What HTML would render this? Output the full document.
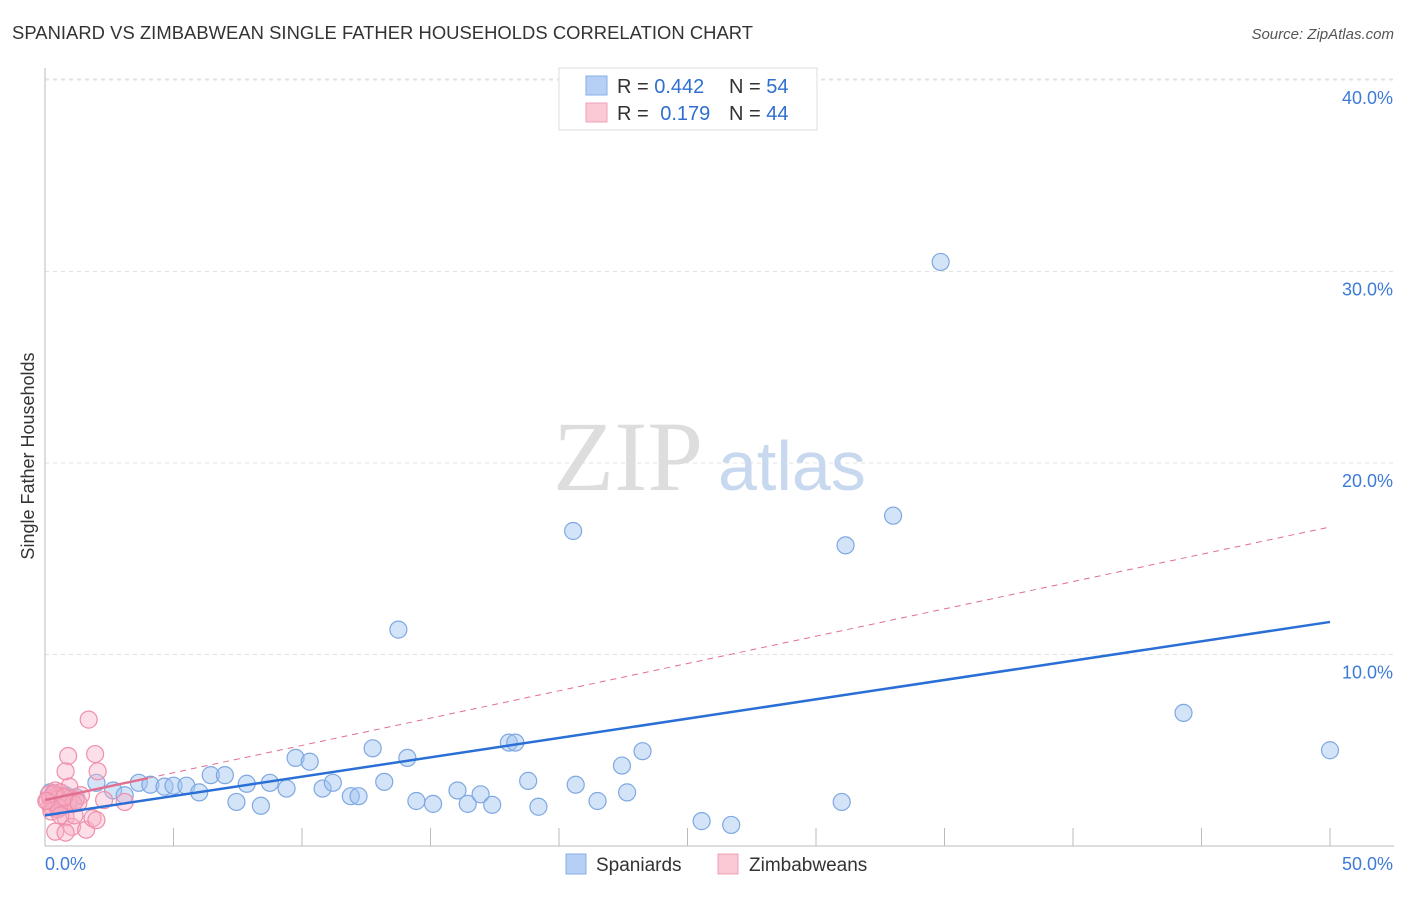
<!DOCTYPE html>
<html><head><meta charset="utf-8">
<style>
body{margin:0;background:#fff;font-family:"Liberation Sans",sans-serif;}
svg text{font-family:"Liberation Sans",sans-serif;}
</style></head>
<body>
<svg id="chart" width="1406" height="892">
<text x="12" y="39" font-size="18.4" fill="#333" textLength="741">SPANIARD VS ZIMBABWEAN SINGLE FATHER HOUSEHOLDS CORRELATION CHART</text>
<text x="1394" y="39" font-size="15" fill="#555" font-style="italic" text-anchor="end">Source: ZipAtlas.com</text>
<g id="grid"></g>
<text x="553" y="490" font-size="100" fill="#ddd" style="font-family:'Liberation Serif',serif">ZIP</text>
<text x="718" y="490" font-size="70" fill="#c8d8ef">atlas</text>
<g id="axes"></g>
<g id="pts"></g>
<g id="lines"></g>
<text transform="translate(34,456) rotate(-90)" font-size="18" fill="#333" text-anchor="middle">Single Father Households</text>
<g>
<rect x="559" y="68" width="258" height="62" fill="#fff" stroke="#ddd"/>
<rect x="586" y="76" width="21" height="19" fill="#b6d0f5" stroke="#88aee6"/>
<rect x="586" y="103" width="21" height="19" fill="#fbc8d6" stroke="#f0a0b8"/>
<text x="617" y="93" font-size="20" fill="#333">R = <tspan fill="#2f6fd0">0.442</tspan></text>
<text x="729" y="93" font-size="20" fill="#333">N = <tspan fill="#2f6fd0">54</tspan></text>
<text x="617" y="120" font-size="20" fill="#333">R = <tspan fill="#2f6fd0" dx="6">0.179</tspan></text>
<text x="729" y="120" font-size="20" fill="#333">N = <tspan fill="#2f6fd0">44</tspan></text>
</g>
<g>
<rect x="566" y="854" width="20" height="20" fill="#b6d0f5" stroke="#88aee6"/>
<text x="596" y="871" font-size="19" fill="#333">Spaniards</text>
<rect x="718" y="854" width="20" height="20" fill="#fbc8d6" stroke="#f0a0b8"/>
<text x="749" y="871" font-size="19" fill="#333">Zimbabweans</text>
</g>
</svg>
<script>
const NS="http://www.w3.org/2000/svg";
const xTicks=[0,5,10,15,20,25,30,35,40,45,50];
const yTicks=[10,20,30,40];
const yTickLabels=["10.0%","20.0%","30.0%","40.0%"];
const xTickLabels=["0.0%","50.0%"];
const blueX=[2.0,2.65,3.1,3.65,4.1,4.65,5.0,5.5,6.0,6.45,7.0,7.45,7.85,8.4,8.75,9.4,9.75,10.3,10.8,11.2,11.9,12.2,12.75,13.2,13.75,14.1,14.45,15.1,16.05,16.45,16.95,17.4,18.05,18.3,18.8,19.2,20.55,20.65,21.5,22.45,22.65,23.25,25.55,26.7,31.0,31.15,33.0,34.85,44.3,50.0,0.2,0.4,0.8,1.2];
const blueY=[3.3,2.9,2.65,3.3,3.2,3.1,3.15,3.15,2.8,3.7,3.7,2.3,3.25,2.1,3.3,3.0,4.6,4.4,3.0,3.3,2.6,2.6,5.1,3.35,11.3,4.6,2.35,2.2,2.9,2.2,2.7,2.15,5.4,5.4,3.4,2.05,16.45,3.2,2.35,4.2,2.8,4.95,1.3,1.1,2.3,15.7,17.25,30.5,6.95,5.0,2.8,2.4,2.65,2.55];
const pinkX=[1.7,0.9,1.95,0.8,2.05,0.95,3.1,0.6,0.4,0.3,0.2,0.5,0.8,1.05,0.4,0.8,1.6,1.85,2.0,1.15,2.3,0.65,0.1,0.3,0.45,0.6,1.0,1.2,1.4,0.2,0.3,0.45,0.15,0.5,0.7,0.9,1.1,0.25,0.55,0.35,0.75,1.3,0.05,0.6];
const pinkY=[6.6,4.7,4.8,3.9,3.9,3.1,2.3,2.4,2.9,2.65,2.1,1.9,1.5,1.0,0.75,0.7,0.85,1.45,1.35,1.6,2.4,2.6,2.4,2.0,2.15,2.8,2.5,2.4,2.65,2.5,2.3,2.6,2.7,2.45,2.2,2.3,2.2,1.8,2.0,2.75,2.55,2.25,2.35,1.6];
const blueTrend=[1.6,11.7];
const pinkTrend=[2.4,16.66];
const X=v=>45+v*25.7, Y=v=>846-v*19.15;
function mk(tag,attrs,parent){const e=document.createElementNS(NS,tag);for(const k in attrs)e.setAttribute(k,attrs[k]);parent.appendChild(e);return e;}
const grid=document.getElementById('grid'),axes=document.getElementById('axes'),pts=document.getElementById('pts'),lines=document.getElementById('lines');
yTicks.forEach((t,i)=>{
 const l=mk('line',{x1:45,x2:1394,y1:Y(t),y2:Y(t),stroke:'#e3e3e3','stroke-dasharray':'4,4'},grid);
 
 
 const tx=mk('text',{x:1393,y:Y(t)+24,'font-size':18,fill:'#3d7bd8','text-anchor':'end'},axes);tx.textContent=yTickLabels[i];
 
 
});
mk('line',{x1:45,x2:45,y1:68,y2:846,stroke:'#bbb'},axes);
mk('line',{x1:45,x2:1394,y1:846,y2:846,stroke:'#bbb'},axes);
xTicks.forEach(t=>{const l=mk('line',{x1:X(t),x2:X(t),y1:828,y2:846,stroke:'#bbb'},axes);
 
 });
let a=mk('text',{x:45,y:870,'font-size':18,fill:'#3d7bd8'},axes);a.textContent=xTickLabels[0];


a=mk('text',{x:1393,y:870,'font-size':18,fill:'#3d7bd8','text-anchor':'end'},axes);a.textContent=xTickLabels[1];


blueX.forEach((x,i)=>{const c=mk('circle',{cx:X(x),cy:Y(blueY[i]),r:8.5,fill:'rgba(160,195,240,0.45)',stroke:'#7ea8e2','stroke-width':1.2},pts);
 
 });
pinkX.forEach((x,i)=>{const c=mk('circle',{cx:X(x),cy:Y(pinkY[i]),r:8.5,fill:'rgba(248,175,198,0.4)',stroke:'#ee8fab','stroke-width':1.2},pts);
 
 });
const pAt=x=>pinkTrend[0]+(pinkTrend[1]-pinkTrend[0])*x/50;
let ln=mk('line',{x1:X(0),y1:Y(pAt(0)),x2:X(4),y2:Y(pAt(4)),stroke:'#e0708f','stroke-width':2.5},lines);


ln=mk('line',{x1:X(4),y1:Y(pAt(4)),x2:X(50),y2:Y(pAt(50)),stroke:'#e0708f','stroke-width':1,'stroke-dasharray':'6,5'},lines);


ln=mk('line',{x1:X(0),y1:Y(blueTrend[0]),x2:X(50),y2:Y(blueTrend[1]),stroke:'#2a6fd6','stroke-width':2.5},lines);


const topLine=mk('line',{x1:45,x2:1394,y1:79,y2:79,stroke:'#e3e3e3','stroke-dasharray':'4,4'},grid);


</script>
</body></html>
